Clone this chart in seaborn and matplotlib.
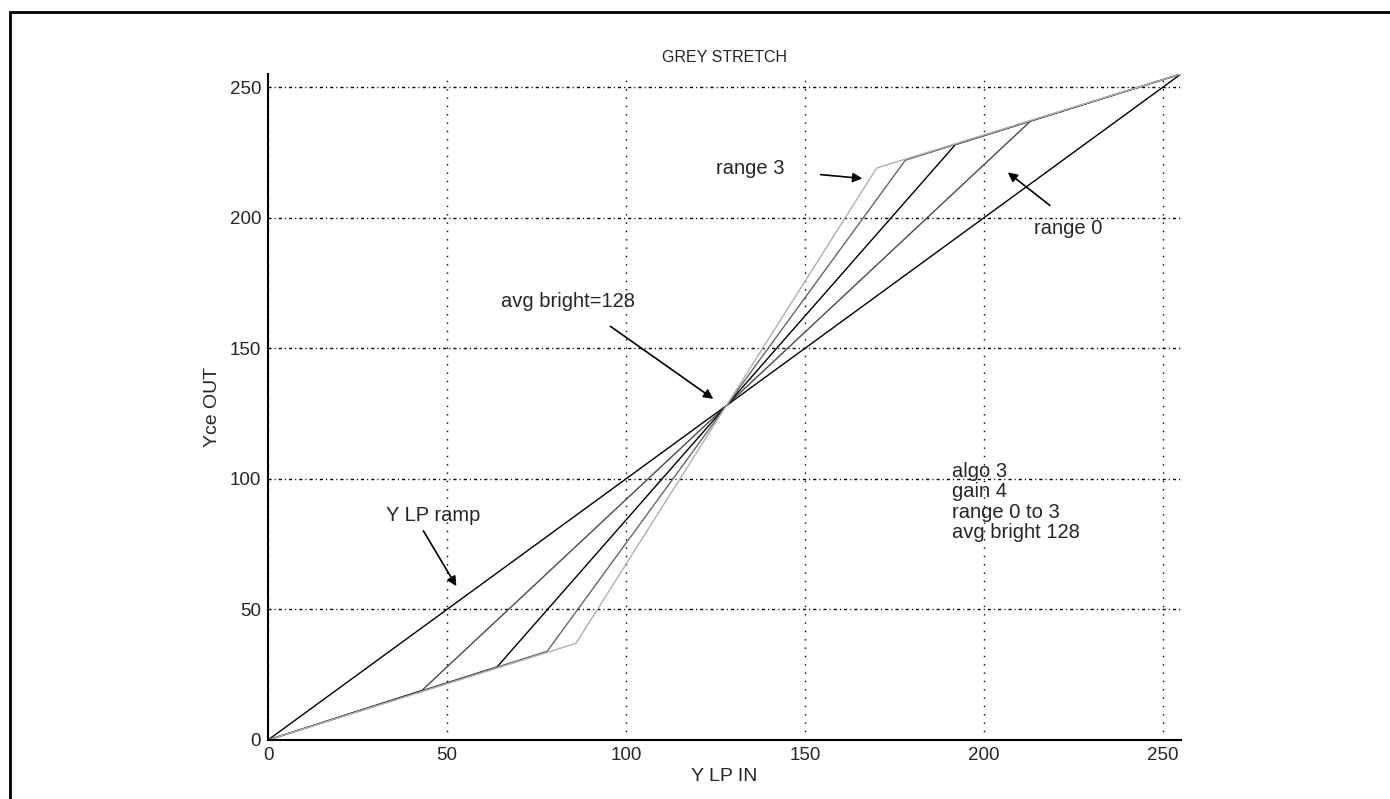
import numpy as np
import pandas as pd
import matplotlib
matplotlib.use("Agg")
import matplotlib.pyplot as plt
import seaborn as sns
from matplotlib.patches import Rectangle

# =========================
# DATA
# =========================
# breakpoints of each stretch curve, range 0 .. range 3
range_names = ["range 0", "range 1", "range 2", "range 3"]
lo_x = [43, 64, 78, 86]
lo_y = [19, 28, 34, 37]
hi_x = [213, 192, 178, 170]
hi_y = [237, 228, 222, 219]
ramp_x = [0, 255]
ramp_y = [0, 255]
ticks = [0, 50, 100, 150, 200, 250]

line_colors = {"Y LP ramp": "black", "range 0": "#4a4a4a", "range 1": "black",
               "range 2": "#666666", "range 3": "#b0b0b0"}

rows = []
for xv, yv in zip(ramp_x, ramp_y):
    rows.append(("Y LP ramp", xv, yv))
for i, name in enumerate(range_names):
    for xv, yv in zip([0, lo_x[i], hi_x[i], 255], [0, lo_y[i], hi_y[i], 255]):
        rows.append((name, xv, yv))
df = pd.DataFrame(rows, columns=["curve", "yin", "yout"])

# =========================
# PLOT
# =========================
sns.set_style("white")
plt.rcParams['font.family'] = ['Liberation Sans', 'DejaVu Sans']

fig = plt.figure(figsize=(13.9, 7.99), dpi=100)
ax = fig.add_axes([268 / 1390, 59 / 799, 913 / 1390, 666 / 799])

for name in ["Y LP ramp"] + range_names:
    sns.lineplot(data=df[df.curve == name], x="yin", y="yout", sort=False,
                 estimator=None, color=line_colors[name], lw=1.0, ax=ax)

ax.set_xlim(0, 255)
ax.set_ylim(0, 255)
ax.set_xticks(ticks)
ax.set_yticks(ticks)
ax.tick_params(direction="in", length=7, width=1.2, labelsize=13.5, pad=5)

ax.xaxis.grid(True, color="black", lw=1.0, linestyle=(0, (1, 5)))
ax.yaxis.grid(True, color="black", lw=1.0, linestyle=(0, (2.2, 2.2, 0.8, 2.2)))
ax.set_axisbelow(True)

sns.despine(ax=ax)
for s in ["left", "bottom"]:
    ax.spines[s].set_linewidth(1.5)
    ax.spines[s].set_color("black")

ax.set_title("GREY STRETCH", fontsize=11.5, pad=9)
ax.set_xlabel("Y LP IN", fontsize=14, labelpad=3)
ax.set_ylabel("Yce OUT", fontsize=14, labelpad=6)

# annotations
fs = 14.5
arrow = dict(arrowstyle="-|>", color="black", lw=1.2, mutation_scale=14)
ax.annotate("range 3", xy=(166, 215), xytext=(125, 219), fontsize=fs,
            va="center", arrowprops=dict(arrow, shrinkA=24, shrinkB=0))
ax.annotate("", xy=(206, 218), xytext=(219, 204), arrowprops=arrow)
ax.text(214, 196, "range 0", fontsize=fs, va="center")
ax.annotate("", xy=(125, 130), xytext=(95, 159), arrowprops=arrow)
ax.text(65, 168, "avg bright=128", fontsize=fs, va="center")
ax.annotate("", xy=(53, 58), xytext=(43, 81), arrowprops=arrow)
ax.text(33, 86, "Y LP ramp", fontsize=fs, va="center")
ax.text(191, 106.5, "algo 3\ngain 4\nrange 0 to 3\navg bright 128", fontsize=fs,
        va="top", linespacing=1.1)

# outer frame of the original print
fig.patches.append(Rectangle((10 / 1390, -0.1), 1.2, 1.1 - 12 / 799,
                             transform=fig.transFigure, fill=False,
                             edgecolor="black", lw=2))

fig.savefig("out.png", dpi=100)
